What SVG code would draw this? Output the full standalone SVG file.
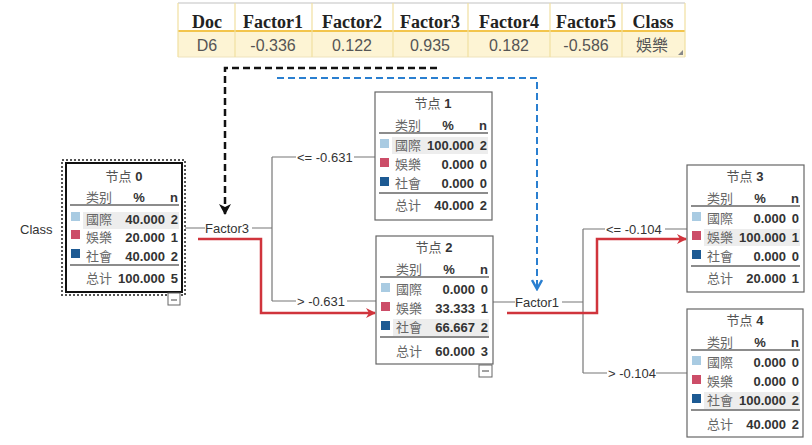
<svg xmlns="http://www.w3.org/2000/svg" width="812" height="445" viewBox="0 0 812 445">
<style>
.th{font-family:"Liberation Serif","Times New Roman",serif;font-weight:bold;font-size:18px;fill:#222;text-anchor:middle}
.td{font-family:"Liberation Sans",Arial,sans-serif;font-size:16px;fill:#555;text-anchor:middle}
.tdc{font-family:"Liberation Sans","Noto Sans CJK TC",sans-serif;font-size:16px;fill:#555;text-anchor:middle}
.box{fill:#fff;stroke:#666;stroke-width:1.2}
.t{font-family:"Liberation Sans","Noto Sans CJK SC",sans-serif;font-size:13px;fill:#555}
.c{font-family:"Liberation Sans","Noto Sans CJK TC",sans-serif;font-size:13px;fill:#666}
.b{font-family:"Liberation Sans",Arial,sans-serif;font-size:13px;font-weight:bold;fill:#333}
.r{text-anchor:end}
.m{text-anchor:middle}
.ul{stroke:#666;stroke-width:1.5}
.sh{fill:#ededed}
.q1{fill:#a9cbe2}.q2{fill:#cc4d68}.q3{fill:#1d5a93}
.ln{fill:none;stroke:#777;stroke-width:1.2}
.lb{font-family:"Liberation Sans",Arial,sans-serif;font-size:13px;fill:#333}
</style>
<defs>
<marker id="ar" markerWidth="10" markerHeight="10" refX="9" refY="5" orient="auto" markerUnits="userSpaceOnUse">
<path d="M0,0 L10,5 L0,10 L3,5 z" fill="#d0343c"/>
</marker>
<marker id="ak" markerWidth="12" markerHeight="12" refX="10" refY="6" orient="auto" markerUnits="userSpaceOnUse">
<path d="M0,0 L11,6 L0,12 L3,6 z" fill="#111"/>
</marker>
<marker id="ab" markerWidth="12" markerHeight="12" refX="10" refY="6" orient="auto" markerUnits="userSpaceOnUse">
<path d="M1,1 L10,6 L1,11" fill="none" stroke="#2a7fd0" stroke-width="2.5"/>
</marker>
</defs>
<rect width="812" height="445" fill="#fff"/>

<g id="table">
<rect x="178" y="3" width="507" height="28" fill="#fff"/>
<rect x="178" y="31" width="507" height="26" fill="#fdf4d4"/>
<line x1="178" y1="3" x2="685" y2="3" stroke="#d6d6d6" stroke-width="1.5"/>
<line x1="178" y1="31" x2="685" y2="31" stroke="#f3c54c" stroke-width="2"/>
<line x1="178" y1="57" x2="685" y2="57" stroke="#eee3bd" stroke-width="1"/>
<g stroke="#f1dfa0" stroke-width="1.2">
<line x1="178" y1="3" x2="178" y2="57"/><line x1="235" y1="3" x2="235" y2="57"/><line x1="312" y1="3" x2="312" y2="57"/><line x1="393" y1="3" x2="393" y2="57"/><line x1="468" y1="3" x2="468" y2="57"/><line x1="550" y1="3" x2="550" y2="57"/><line x1="622" y1="3" x2="622" y2="57"/><line x1="685" y1="3" x2="685" y2="57"/>
</g>
<text class="th" x="207" y="28">Doc</text>
<text class="th" x="273" y="28">Factor1</text>
<text class="th" x="352" y="28">Factor2</text>
<text class="th" x="430" y="28">Factor3</text>
<text class="th" x="509" y="28">Factor4</text>
<text class="th" x="586" y="28">Factor5</text>
<text class="th" x="653" y="28">Class</text>
<text class="td" x="207" y="51">D6</text>
<text class="td" x="273" y="51">-0.336</text>
<text class="td" x="352" y="51">0.122</text>
<text class="td" x="430" y="51">0.935</text>
<text class="td" x="509" y="51">0.182</text>
<text class="td" x="586" y="51">-0.586</text>
<text class="tdc" x="652" y="51">娛樂</text>
<path d="M683,50 L683,55 L678,55 z" fill="#888"/>
</g>

<text x="20" y="234" style="font-family:'Liberation Sans',Arial,sans-serif;font-size:13px;fill:#333">Class</text>

<g id="connectors">
<path class="ln" d="M185,228 H205 M252,228 H272 M272,157 V301 M272,157 H296 M354,157 H375 M272,301 H296 M347,301 H376"/>
<path class="ln" d="M493,302 H515 M562,302 H583 M583,229 V373 M583,229 H605 M665,229 H687 M583,373 H607 M656,373 H687"/>
<text class="lb" x="205" y="233">Factor3</text>
<text class="lb" x="297" y="162">&lt;= -0.631</text>
<text class="lb" x="297" y="306">&gt; -0.631</text>
<text class="lb" x="515" y="307">Factor1</text>
<text class="lb" x="606" y="234">&lt;= -0.104</text>
<text class="lb" x="608" y="378">&gt; -0.104</text>
<path d="M198,239 H261 V313 H375" fill="none" stroke="#d0343c" stroke-width="2.5" marker-end="url(#ar)"/>
<path d="M507,313 H597 V239 H686" fill="none" stroke="#d0343c" stroke-width="2.5" marker-end="url(#ar)"/>
<path d="M437,68 H225 V214" fill="none" stroke="#111" stroke-width="2.5" stroke-dasharray="7,4" marker-end="url(#ak)"/>
<path d="M277,78 H537 V289" fill="none" stroke="#2a7fd0" stroke-width="2" stroke-dasharray="7,4" marker-end="url(#ab)"/>
</g>

<g id="node0">
<rect x="62" y="160" width="123" height="135" fill="#fff" stroke="#555" stroke-width="2" stroke-dasharray="2,2"/>
<g transform="translate(66,163)">
<rect x="0" y="0" width="116" height="129" fill="#fff" stroke="#111" stroke-width="2"/>
<rect class="sh" x="17" y="49" width="96" height="17"/>
<text class="t m" x="58" y="18">节点 <tspan font-weight="bold" fill="#333">0</tspan></text>
<text class="c" x="20" y="39">类别</text><text class="b m" x="73" y="39">%</text><text class="b r" x="112" y="39">n</text>
<line class="ul" x1="4" y1="42" x2="113" y2="42"/>
<rect class="q1" x="5" y="49" width="9" height="9"/><text class="c" x="20" y="61">國際</text><text class="b r" x="99" y="61">40.000</text><text class="b r" x="112" y="61">2</text>
<rect class="q2" x="5" y="67" width="9" height="9"/><text class="c" x="20" y="79">娛樂</text><text class="b r" x="99" y="79">20.000</text><text class="b r" x="112" y="79">1</text>
<rect class="q3" x="5" y="86" width="9" height="9"/><text class="c" x="20" y="98">社會</text><text class="b r" x="99" y="98">40.000</text><text class="b r" x="112" y="98">2</text>
<line class="ul" x1="4" y1="102" x2="113" y2="102"/>
<text class="c" x="20" y="120">总计</text><text class="b r" x="99" y="120">100.000</text><text class="b r" x="112" y="120">5</text>
</g>
<rect x="168" y="293" width="12" height="12" fill="#fff" stroke="#666"/><line x1="171" y1="300" x2="177" y2="300" stroke="#444"/>
</g>

<g id="node1" transform="translate(375,92)">
<rect class="box" x="0" y="0" width="117" height="128"/>
<rect class="sh" x="17" y="45" width="96" height="17"/>
<text class="t m" x="58" y="16">节点 <tspan font-weight="bold" fill="#333">1</tspan></text>
<text class="c" x="20" y="38">类别</text><text class="b m" x="73" y="38">%</text><text class="b r" x="112" y="38">n</text>
<line class="ul" x1="4" y1="41" x2="113" y2="41"/>
<rect class="q1" x="5" y="47" width="9" height="9"/><text class="c" x="20" y="58">國際</text><text class="b r" x="99" y="58">100.000</text><text class="b r" x="112" y="58">2</text>
<rect class="q2" x="5" y="66" width="9" height="9"/><text class="c" x="20" y="77">娛樂</text><text class="b r" x="99" y="77">0.000</text><text class="b r" x="112" y="77">0</text>
<rect class="q3" x="5" y="85" width="9" height="9"/><text class="c" x="20" y="96">社會</text><text class="b r" x="99" y="96">0.000</text><text class="b r" x="112" y="96">0</text>
<line class="ul" x1="4" y1="101" x2="113" y2="101"/>
<text class="c" x="20" y="118">总计</text><text class="b r" x="99" y="118">40.000</text><text class="b r" x="112" y="118">2</text>
</g>

<g id="node2">
<g transform="translate(376,236)">
<rect class="box" x="0" y="0" width="117" height="128"/>
<rect class="sh" x="17" y="83" width="96" height="17"/>
<text class="t m" x="58" y="16">节点 <tspan font-weight="bold" fill="#333">2</tspan></text>
<text class="c" x="20" y="38">类别</text><text class="b m" x="73" y="38">%</text><text class="b r" x="112" y="38">n</text>
<line class="ul" x1="4" y1="41" x2="113" y2="41"/>
<rect class="q1" x="5" y="47" width="9" height="9"/><text class="c" x="20" y="58">國際</text><text class="b r" x="99" y="58">0.000</text><text class="b r" x="112" y="58">0</text>
<rect class="q2" x="5" y="66" width="9" height="9"/><text class="c" x="20" y="77">娛樂</text><text class="b r" x="99" y="77">33.333</text><text class="b r" x="112" y="77">1</text>
<rect class="q3" x="5" y="85" width="9" height="9"/><text class="c" x="20" y="96">社會</text><text class="b r" x="99" y="96">66.667</text><text class="b r" x="112" y="96">2</text>
<line class="ul" x1="4" y1="101" x2="113" y2="101"/>
<text class="c" x="20" y="120">总计</text><text class="b r" x="99" y="120">60.000</text><text class="b r" x="112" y="120">3</text>
</g>
<rect x="479" y="365" width="13" height="12" fill="#fff" stroke="#666"/><line x1="482" y1="371" x2="489" y2="371" stroke="#444"/>
</g>

<g id="node3" transform="translate(687,165)">
<rect class="box" x="0" y="0" width="117" height="127"/>
<rect class="sh" x="17" y="64" width="96" height="17"/>
<text class="t m" x="58" y="16">节点 <tspan font-weight="bold" fill="#333">3</tspan></text>
<text class="c" x="20" y="38">类别</text><text class="b m" x="73" y="38">%</text><text class="b r" x="112" y="38">n</text>
<line class="ul" x1="4" y1="41" x2="113" y2="41"/>
<rect class="q1" x="5" y="47" width="9" height="9"/><text class="c" x="20" y="58">國際</text><text class="b r" x="99" y="58">0.000</text><text class="b r" x="112" y="58">0</text>
<rect class="q2" x="5" y="66" width="9" height="9"/><text class="c" x="20" y="77">娛樂</text><text class="b r" x="99" y="77">100.000</text><text class="b r" x="112" y="77">1</text>
<rect class="q3" x="5" y="85" width="9" height="9"/><text class="c" x="20" y="96">社會</text><text class="b r" x="99" y="96">0.000</text><text class="b r" x="112" y="96">0</text>
<line class="ul" x1="4" y1="101" x2="113" y2="101"/>
<text class="c" x="20" y="118">总计</text><text class="b r" x="99" y="118">20.000</text><text class="b r" x="112" y="118">1</text>
</g>

<g id="node4" transform="translate(687,309)">
<rect class="box" x="0" y="0" width="116" height="128"/>
<rect class="sh" x="17" y="83" width="96" height="17"/>
<text class="t m" x="58" y="16">节点 <tspan font-weight="bold" fill="#333">4</tspan></text>
<text class="c" x="20" y="38">类别</text><text class="b m" x="73" y="38">%</text><text class="b r" x="112" y="38">n</text>
<line class="ul" x1="4" y1="41" x2="113" y2="41"/>
<rect class="q1" x="5" y="47" width="9" height="9"/><text class="c" x="20" y="58">國際</text><text class="b r" x="99" y="58">0.000</text><text class="b r" x="112" y="58">0</text>
<rect class="q2" x="5" y="66" width="9" height="9"/><text class="c" x="20" y="77">娛樂</text><text class="b r" x="99" y="77">0.000</text><text class="b r" x="112" y="77">0</text>
<rect class="q3" x="5" y="85" width="9" height="9"/><text class="c" x="20" y="96">社會</text><text class="b r" x="99" y="96">100.000</text><text class="b r" x="112" y="96">2</text>
<line class="ul" x1="4" y1="101" x2="113" y2="101"/>
<text class="c" x="20" y="120">总计</text><text class="b r" x="99" y="120">40.000</text><text class="b r" x="112" y="120">2</text>
</g>
</svg>
